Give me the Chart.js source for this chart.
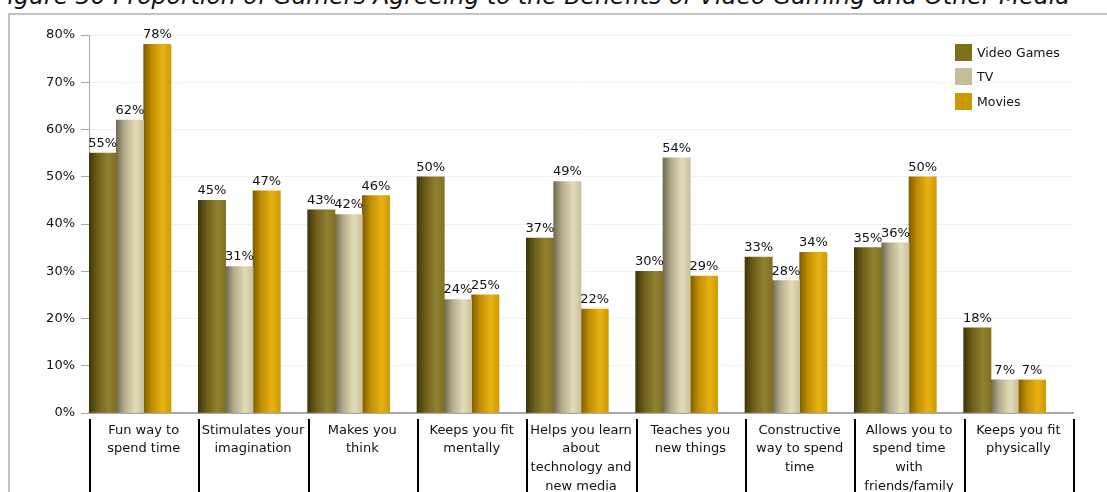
<!DOCTYPE html>
<html lang="en">
<head>
<meta charset="UTF-8">
<title>Proportion of Gamers Agreeing to the Benefits of Video Gaming</title>
<script src="https://cdn.jsdelivr.net/npm/chart.js"></script>
<style>
    body { margin: 0; width: 1107px; height: 492px; overflow: hidden; background: #fff; position: relative;
           font-family: "DejaVu Sans", Verdana, sans-serif; color: #111; }
    #title { position: absolute; left: -6px; top: -15px; font-style: italic; font-size: 21.5px; line-height: 1; white-space: nowrap; }
    #frame { position: absolute; left: 8px; top: 13px; width: 1200px; height: 600px;
             border-top: 2px solid #c4c4c4; border-left: 2px solid #c4c4c4; }
    #wrap { position: absolute; left: 0; top: 0; width: 1107px; height: 492px; }
    #legend { position: absolute; left: 955px; top: 40px; font-size: 12.5px; }
    #legend div { display: flex; align-items: center; height: 24.5px; }
    #legend span { display: inline-block; width: 17px; height: 17px; margin-right: 5px; }
</style>
</head>
<body>
    <div id="title">Figure 30 Proportion of Gamers Agreeing to the Benefits of Video Gaming and Other Media</div>
    <div id="frame"></div>
    <div id="wrap"><canvas id="bar-chart" width="1107" height="492"></canvas></div>
    <div id="legend"></div>

<script>
    const categories = [
        ['Fun way to', 'spend time'],
        ['Stimulates your', 'imagination'],
        ['Makes you', 'think'],
        ['Keeps you fit', 'mentally'],
        ['Helps you learn', 'about', 'technology and', 'new media'],
        ['Teaches you', 'new things'],
        ['Constructive', 'way to spend', 'time'],
        ['Allows you to', 'spend time', 'with', 'friends/family'],
        ['Keeps you fit', 'physically']
    ];
    const videoGames = [55, 45, 43, 50, 37, 30, 33, 35, 18];
    const tv         = [62, 31, 42, 24, 49, 54, 28, 36, 7];
    const movies     = [78, 47, 46, 25, 22, 29, 34, 50, 7];

    const series = [
        { label: 'Video Games', data: videoGames, color: '#7f7119', shades: ['#3e350b', '#6b5e17', '#8f8130', '#807222'] },
        { label: 'TV',          data: tv,         color: '#c4bd97', shades: ['#6f6a52', '#b3ad8c', '#e3dcb8', '#c9c19c'] },
        { label: 'Movies',      data: movies,     color: '#cc9900', shades: ['#7d5f02', '#c08d04', '#e8b212', '#cf9b03'] }
    ];

    // fit the (cut off) title to its width in the original
    const title = document.getElementById('title');
    title.style.fontSize = (21.5 * 1076 / title.offsetWidth) + 'px';

    // legend
    const legend = document.getElementById('legend');
    series.forEach(s => {
        const row = document.createElement('div');
        row.innerHTML = `<span style="background:${s.color}"></span>${s.label}`;
        legend.appendChild(row);
    });

    // cylinder look: horizontal gradient on every bar
    const cylinderFill = {
        id: 'cylinderFill',
        beforeDatasetsDraw(chart) {
            const ctx = chart.ctx;
            chart.data.datasets.forEach((ds, i) => {
                if (!ds.shades) return;
                chart.getDatasetMeta(i).data.forEach(bar => {
                    const g = ctx.createLinearGradient(bar.x - bar.width / 2, 0, bar.x + bar.width / 2, 0);
                    g.addColorStop(0, ds.shades[0]);
                    g.addColorStop(0.3, ds.shades[1]);
                    g.addColorStop(0.7, ds.shades[2]);
                    g.addColorStop(1, ds.shades[3]);
                    bar.options.backgroundColor = g;
                });
            });
        }
    };

    // value labels above bars
    const valueLabels = {
        id: 'valueLabels',
        afterDatasetsDraw(chart) {
            const ctx = chart.ctx;
            ctx.save();
            ctx.font = '13px "DejaVu Sans"';
            ctx.fillStyle = '#111';
            ctx.textAlign = 'center';
            ctx.textBaseline = 'bottom';
            chart.data.datasets.forEach((ds, i) => {
                if (!ds.shades) return;
                chart.getDatasetMeta(i).data.forEach((bar, j) => {
                    ctx.fillText(ds.data[j] + '%', bar.x, bar.y - 3);
                });
            });
            ctx.restore();
        }
    };

    // black separators between category labels
    const separators = {
        id: 'separators',
        afterDraw(chart) {
            const ctx = chart.ctx;
            const xs = chart.scales.x;
            const half = (xs.getPixelForValue(1) - xs.getPixelForValue(0)) / 2;
            ctx.save();
            ctx.strokeStyle = '#000';
            ctx.lineWidth = 2;
            for (let i = 0; i <= categories.length; i++) {
                const x = Math.round(xs.getPixelForValue(i) - half) + 1;
                ctx.beginPath();
                ctx.moveTo(x, xs.top + 6);
                ctx.lineTo(x, chart.height);
                ctx.stroke();
            }
            ctx.restore();
        }
    };

    const datasets = series.map(s => ({
        label: s.label,
        data: s.data,
        shades: s.shades,
        backgroundColor: () => s.color,
        barPercentage: 1,
        categoryPercentage: 1
    }));
    // empty slot so the three bars sit on the left of each category
    datasets.push({ label: '', data: categories.map(() => null), barPercentage: 1, categoryPercentage: 1 });

    new Chart(document.getElementById('bar-chart').getContext('2d'), {
        type: 'bar',
        data: { labels: categories, datasets: datasets },
        options: {
            responsive: false,
            animation: false,
            layout: { padding: { top: 35, right: 34, left: 0, bottom: 0 } },
            plugins: { legend: { display: false }, tooltip: { enabled: false } },
            scales: {
                x: {
                    offset: true,
                    grid: { display: false },
                    border: { color: '#a8a8a8', width: 2 },
                    ticks: {
                        autoSkip: false, maxRotation: 0, padding: 0, color: '#111',
                        font: { family: 'DejaVu Sans', size: 13, lineHeight: 1.44 }
                    },
                    afterFit(scale) { scale.height = 79; }
                },
                y: {
                    min: 0, max: 80,
                    grid: { color: '#f1f1f1', tickColor: '#a8a8a8', tickLength: 8 },
                    border: { color: '#a8a8a8', width: 1 },
                    ticks: {
                        stepSize: 10, padding: 6, color: '#111',
                        font: { family: 'DejaVu Sans', size: 13 },
                        callback: v => v + '%'
                    },
                    afterFit(scale) { scale.width = 89; }
                }
            }
        },
        plugins: [cylinderFill, valueLabels, separators]
    });
</script>
</body>
</html>
